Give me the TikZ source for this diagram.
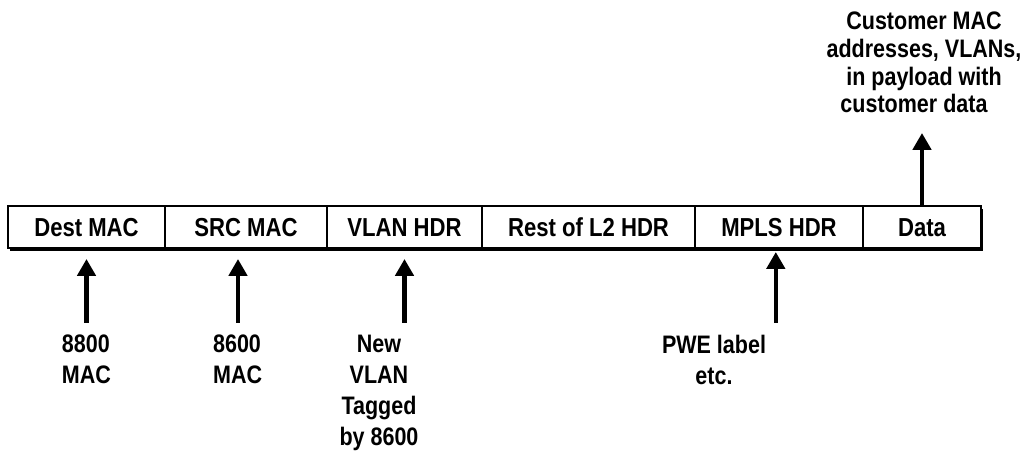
\documentclass[tikz,border=0pt]{standalone}
\usepackage{fontspec}
\setmainfont{Liberation Sans}[FakeStretch=0.85]
\usetikzlibrary{arrows.meta,positioning,shadows}

\begin{document}
\begin{tikzpicture}[
    field/.style={rectangle, draw, fill=white, line width=1.4pt, minimum height=1.05cm, text height=0.46cm, text depth=0pt, inner sep=0pt, outer sep=0pt, anchor=west, font=\fontsize{18.5}{22}\selectfont\bfseries, drop shadow={shadow xshift=0.04cm, shadow yshift=-0.07cm, fill=black, opacity=1}},
    note/.style={inner sep=0pt, anchor=north, font=\fontsize{18}{22}\selectfont\bfseries},
    pointer/.style={-{Triangle[width=0.45cm, length=0.42cm]}, line width=3pt}
]
    \useasboundingbox (0,0) rectangle (25.6,-11.3);

    % Header fields
    \node[field, minimum width=3.925cm] (dest) at (0.2,-5.675) {Dest MAC};
    \node[field, minimum width=4.05cm] (src) at (4.125,-5.675) {SRC MAC};
    \node[field, minimum width=3.875cm] (vlan) at (8.175,-5.675) {VLAN HDR};
    \node[field, minimum width=5.325cm] (rest) at (12.05,-5.675) {Rest of L2 HDR};
    \node[field, minimum width=4.2cm] (mpls) at (17.375,-5.675) {MPLS HDR};
    \node[field, minimum width=2.95cm] (data) at (21.575,-5.675) {Data};

    % Notes
    \node[note, align=left] (mac88) at (2.16,-8.375) {8800\\MAC};
    \node[note, align=left] (mac86) at (5.94,-8.375) {8600\\MAC};
    \node[note, align=center] (tagged) at (9.475,-8.375) {New\\VLAN\\Tagged\\by 8600};
    \node[note, align=center] (pwe) at (17.85,-8.375) {PWE label\\etc.};
    \node[note, align=center, font=\fontsize{18}{19.6}\selectfont\bfseries] (cust) at (23.1,-0.3) {Customer MAC\\addresses, VLANs,\\in payload with\\customer data\hspace*{0.5cm}};

    % Connections
    \draw[pointer] ([yshift=-1.875cm]dest.south) -- ([yshift=-0.275cm]dest.south);
    \draw[pointer] ([xshift=-0.2cm, yshift=-1.875cm]src.south) -- ([xshift=-0.2cm, yshift=-0.275cm]src.south);
    \draw[pointer] ([yshift=-1.875cm]vlan.south) -- ([yshift=-0.275cm]vlan.south);
    \draw[pointer] ([xshift=-0.08cm, yshift=-1.875cm]mpls.south) -- ([xshift=-0.08cm, yshift=-0.1cm]mpls.south);
    \draw[pointer] (data.north) -- ++(0,1.825);
\end{tikzpicture}
\end{document}
